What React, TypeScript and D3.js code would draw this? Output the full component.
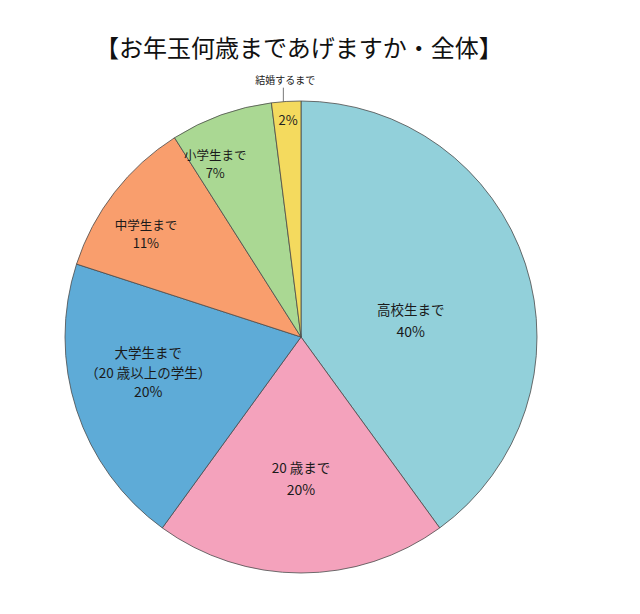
import { useEffect, useRef } from "react";
import * as d3 from "d3";

const CATEGORIES = ["高校生まで", "20 歳まで", "大学生まで", "中学生まで", "小学生まで", "結婚するまで"];
const SUB_LABELS = ["", "", "（20 歳以上の学生）", "", "", ""];
const VALUES = [40, 20, 20, 11, 7, 2];
const COLORS = ["#92D0DA", "#F4A2BC", "#5EABD7", "#F99E6D", "#AAD893", "#F4DA5E"];
const TITLE = "【お年玉何歳まであげますか・全体】";

// label placement (polar: degrees clockwise from top, fraction of radius)
const LABEL_ANGLE = [81.7, 180, 256.8, 303.7, 333.7, 356.6];
const LABEL_R = [0.47, 0.6, 0.665, 0.79, 0.82, 0.92];

const W = 640;
const H = 614;
const FONT = "'Noto Sans CJK JP', 'Noto Sans', sans-serif";

export default function App() {
  const ref = useRef<SVGSVGElement>(null);

  useEffect(() => {
    if (!ref.current) return;
    const svg = d3.select(ref.current);
    svg.selectAll("*").remove();

    const cx = 301;
    const cy = 337;
    const R = 236;

    svg.append("rect").attr("width", W).attr("height", H).attr("fill", "#fff");

    svg.append("text")
      .attr("x", 299).attr("y", 57)
      .attr("text-anchor", "middle")
      .attr("font-family", FONT).attr("font-size", "24px").attr("font-weight", 400)
      .attr("fill", "#111")
      .text(TITLE);

    const pie = d3.pie<number>().sort(null).value((d) => d);
    const arcs = pie(VALUES);
    const arc = d3.arc<d3.PieArcDatum<number>>().innerRadius(0).outerRadius(R);

    const g = svg.append("g").attr("transform", `translate(${cx},${cy})`);

    g.selectAll("path.slice").data(arcs).join("path")
      .attr("class", "slice")
      .attr("d", arc)
      .attr("fill", (_d, i) => COLORS[i])
      .attr("stroke", "#4a4a4a").attr("stroke-width", 0.8)
      .attr("stroke-linejoin", "round");

    arcs.forEach((a, i) => {
      const ang = (LABEL_ANGLE[i] * Math.PI) / 180;
      const r = LABEL_R[i] * R;
      const lx = Math.sin(ang) * r;
      const ly = -Math.cos(ang) * r;
      const pct = `${VALUES[i]}%`;

      if (i === CATEGORIES.length - 1) {
        // small slice: percent inside, name above with leader line
        g.append("text")
          .attr("x", lx).attr("y", ly + 5)
          .attr("text-anchor", "middle")
          .attr("font-family", FONT).attr("font-size", "13px").attr("fill", "#222")
          .text(pct);
        const edgeAng = (a.startAngle + a.endAngle) / 2 - 0.012;
        const ex = Math.sin(edgeAng) * R;
        const ey = -Math.cos(edgeAng) * R;
        g.append("line")
          .attr("x1", ex).attr("y1", ey)
          .attr("x2", ex).attr("y2", ey - 14)
          .attr("stroke", "#555").attr("stroke-width", 0.8);
        g.append("text")
          .attr("x", ex + 2).attr("y", ey - 18)
          .attr("text-anchor", "middle")
          .attr("font-family", FONT).attr("font-size", "10px").attr("fill", "#222")
          .text(CATEGORIES[i]);
        return;
      }

      const lines = [CATEGORIES[i]];
      if (SUB_LABELS[i]) lines.push(SUB_LABELS[i]);
      lines.push(pct);
      const lh = i === 2 ? 19.5 : i >= 3 ? 18 : 22;
      const fs = i >= 3 ? 12.5 : 13.5;
      const y0 = ly - ((lines.length - 1) * lh) / 2 + 5;
      lines.forEach((t, k) => {
        g.append("text")
          .attr("x", lx).attr("y", y0 + k * lh)
          .attr("text-anchor", "middle")
          .attr("font-family", FONT)
          .attr("font-size", `${k === lines.length - 1 ? fs + 0.5 : fs}px`)
          .attr("fill", "#1a1a1a")
          .text(t);
      });
    });
  }, []);

  return (
    <div style={{ position: "fixed", left: 0, top: 0, width: W, height: H, background: "#fff" }}>
      <svg ref={ref} width={W} height={H} style={{ display: "block" }} />
    </div>
  );
}
